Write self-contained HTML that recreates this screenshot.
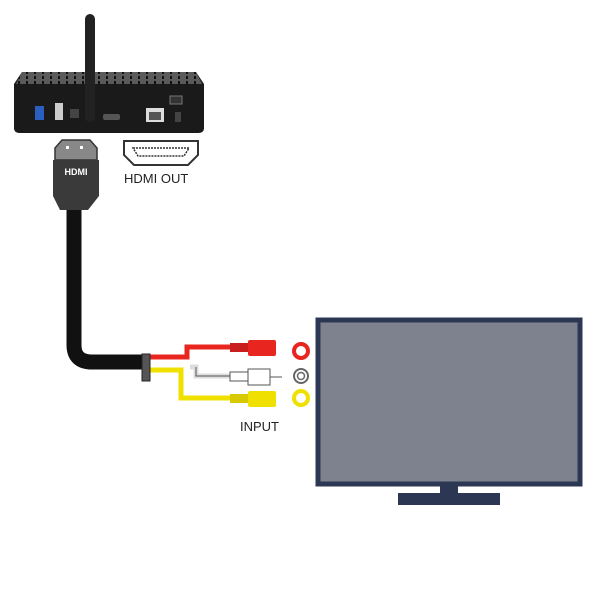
<!DOCTYPE html>
<html><head><style>body{margin:0;background:#fff}</style></head><body>
<svg width="600" height="600" viewBox="0 0 600 600" xmlns="http://www.w3.org/2000/svg" font-family="Liberation Sans, sans-serif">
<defs><pattern id="p" width="8" height="5" patternUnits="userSpaceOnUse"><rect width="8" height="5" fill="#5a5a5a"/><rect x="2" y="1" width="2" height="3" fill="#111"/></pattern></defs>
<rect width="600" height="600" fill="#fff"/>
<!-- box -->
<path d="M22 72 L196 72 L204 84 L204 128 Q204 133 198 133 L20 133 Q14 133 14 128 L14 84 Z" fill="#1a1a1a"/>
<path d="M22 72 L196 72 L202 84 L16 84 Z" fill="url(#p)"/>
<rect x="35" y="106" width="9" height="14" fill="#2a5fc0"/>
<rect x="55" y="103" width="8" height="17" fill="#ccc"/>
<rect x="70" y="109" width="9" height="9" fill="#444"/>
<rect x="103" y="114" width="17" height="6" rx="2" fill="#555"/>
<rect x="146" y="108" width="18" height="14" fill="#ddd"/><rect x="149" y="112" width="12" height="8" fill="#555"/>
<rect x="170" y="96" width="12" height="8" fill="#333" stroke="#777"/>
<rect x="175" y="112" width="6" height="10" fill="#444"/>
<!-- antenna -->
<rect x="85" y="14" width="10" height="108" rx="5" fill="#222"/>
<!-- HDMI OUT port -->
<path d="M124 141 L198 141 L198 155 L188 165 L134 165 L124 155 Z" fill="#fff" stroke="#333" stroke-width="2"/>
<path d="M133 148 L189 148 L184 156 L138 156 Z" fill="#fff" stroke="#333" stroke-width="1.5" stroke-dasharray="2 1"/>
<text x="124" y="183" font-size="13" fill="#222">HDMI OUT</text>
<!-- cable -->
<path d="M74 200 L74 345 Q74 362 92 362 L146 362" fill="none" stroke="#111" stroke-width="15"/>
<!-- HDMI plug -->
<path d="M55 160 L55 148 L62 140 L90 140 L97 148 L97 160 Z" fill="#888" stroke="#333" stroke-width="1.5"/>
<rect x="66" y="146" width="3" height="3" fill="#fff"/><rect x="80" y="146" width="3" height="3" fill="#fff"/>
<path d="M53 160 L99 160 L99 196 L88 210 L60 210 L53 196 Z" fill="#3a3a3a"/>
<text x="76" y="175" font-size="9" font-weight="bold" fill="#fff" text-anchor="middle">HDMI</text>
<!-- wires -->
<path d="M148 357 L187 357 L187 347 L232 347" fill="none" stroke="#e8251f" stroke-width="5"/>
<path d="M190 367 L196 367 L196 376 L232 376" fill="none" stroke="#ddd" stroke-width="5"/>
<path d="M196 367 L196 376 L232 376" fill="none" stroke="#555" stroke-width="1"/>
<path d="M148 370 L181 370 L181 398 L232 398" fill="none" stroke="#f0e000" stroke-width="5"/>
<rect x="142" y="354" width="8" height="27" fill="#555" stroke="#222"/>
<!-- plugs -->
<rect x="230" y="343" width="18" height="9" fill="#c81e1e"/>
<rect x="248" y="340" width="28" height="16" rx="2" fill="#e8251f"/>
<rect x="230" y="372" width="18" height="9" fill="#fff" stroke="#555"/>
<rect x="248" y="369" width="22" height="16" fill="#fff" stroke="#555"/>
<line x1="270" y1="377" x2="282" y2="377" stroke="#555"/>
<rect x="230" y="394" width="18" height="9" fill="#d8c800"/>
<rect x="248" y="391" width="28" height="16" rx="2" fill="#f0e000"/>
<!-- jacks -->
<circle cx="301" cy="351" r="7" fill="none" stroke="#e8251f" stroke-width="4"/>
<circle cx="301" cy="376" r="7" fill="none" stroke="#666" stroke-width="2"/>
<circle cx="301" cy="376" r="3.5" fill="none" stroke="#666" stroke-width="1.5"/>
<circle cx="301" cy="398" r="7" fill="none" stroke="#f0e000" stroke-width="4"/>
<text x="240" y="431" font-size="13" fill="#222">INPUT</text>
<!-- TV -->
<rect x="318" y="320" width="262" height="164" fill="#7e828f" stroke="#2c3853" stroke-width="5"/>
<rect x="440" y="485" width="18" height="9" fill="#2c3853"/>
<rect x="398" y="493" width="102" height="12" fill="#2c3853"/>
</svg>
</body></html>
